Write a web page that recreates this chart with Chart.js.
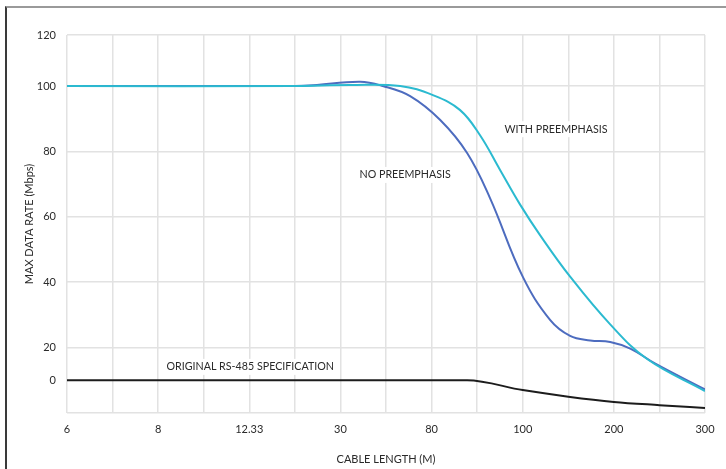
<!DOCTYPE html>
<html>
<head>
<meta charset="utf-8">
<script src="https://cdn.jsdelivr.net/npm/chart.js@4/dist/chart.umd.min.js"></script>
<style>
  html, body { margin: 0; padding: 0; background: #fff; }
  #wrap { position: relative; width: 726px; height: 469px; }
  #frame { position: absolute; left: 5px; top: 6px; right: 0; bottom: 0;
           border-top: 2px solid #9a9a9a; border-left: 2px solid #3a3a3a; pointer-events: none; }
  canvas { position: absolute; left: 0; top: 0; }
</style>
</head>
<body>
<div id="wrap">
  <canvas id="c" width="726" height="469"></canvas>
  <div id="frame"></div>
</div>
<script>
// Category tick labels on the cable-length axis (placed at every other grid position)
const cableLabels = ['6', '', '8', '', '12.33', '', '30', '', '80', '', '100', '', '200', '', '300'];

// Y tick positions (axis units) and their printed labels
const yTickValues = [0, 10, 20, 40, 60, 80, 100, 115.6];
const yTickLabels = ['', '0', '20', '40', '60', '80', '100', '120'];

// Series: x = position on cable-length axis, y = data rate (axis units)
const withPreX = [0, 5, 6.21, 7.31, 8.03, 8.62, 9.06, 9.5, 9.94, 10.38, 11.04, 11.92, 12.73, 14];
const withPreY = [100, 100, 100.3, 100, 97.2, 92.7, 85, 74.4, 63.8, 54.4, 41.7, 27.1, 16.5, 6.7];

const noPreX = [0, 5, 5.4, 6.43, 6.93, 7.53, 8.19, 8.78, 9.28, 10.0, 10.6, 11.04, 11.48, 11.92, 12.36, 12.91, 14];
const noPreY = [100, 100, 100.2, 101.3, 100, 96.9, 89.6, 79.5, 65.8, 41.7, 28.5, 23.6, 22.2, 21.7, 19.7, 15.1, 7.2];

const specX = [0, 8.78, 10, 11, 12, 13, 14];
const specY = [10, 10, 7, 5, 3.4, 2.4, 1.5];

// Annotation labels
const noteTexts = ['WITH PREEMPHASIS', 'NO PREEMPHASIS', 'ORIGINAL RS-485 SPECIFICATION'];
const noteX = [10.73, 7.42, 4.02];
const noteY = [86.8, 72.8, 14.1];

const pts = (xs, ys) => xs.map((x, i) => ({x: x, y: ys[i]}));
const FONT = 'Lato, "Open Sans", sans-serif';
const TXT = '#2a2a2a';

const notesPlugin = {
  id: 'notes',
  beforeDatasetsDraw(chart) {
    const {ctx, scales: {x, y}} = chart;
    ctx.save();
    ctx.font = '10.7px ' + FONT;
    ctx.textAlign = 'center';
    ctx.textBaseline = 'middle';
    noteTexts.forEach((t, i) => {
      const px = x.getPixelForValue(noteX[i]);
      const py = y.getPixelForValue(noteY[i]);
      const w = ctx.measureText(t).width;
      ctx.fillStyle = '#fff';
      ctx.fillRect(px - w / 2 - 4, py - 8, w + 8, 16);
      ctx.fillStyle = TXT;
      ctx.fillText(t, px, py);
    });
    ctx.restore();
  }
};

new Chart(document.getElementById('c'), {
  type: 'line',
  data: {
    datasets: [
      { label: 'With preemphasis', data: pts(withPreX, withPreY), borderColor: '#2bbad0', borderWidth: 2,
        pointRadius: 0, tension: 0.4, fill: false },
      { label: 'No preemphasis', data: pts(noPreX, noPreY), borderColor: '#4d6cbf', borderWidth: 2,
        pointRadius: 0, tension: 0.4, fill: false },
      { label: 'Original RS-485 specification', data: pts(specX, specY), borderColor: '#1c1c1c', borderWidth: 2,
        pointRadius: 0, cubicInterpolationMode: 'monotone', fill: false }
    ]
  },
  options: {
    responsive: false,
    animation: false,
    events: [],
    layout: { padding: { left: 0, right: 21, top: 35, bottom: 0 } },
    plugins: { legend: { display: false }, tooltip: { enabled: false } },
    scales: {
      x: {
        type: 'linear', min: 0, max: 14,
        afterBuildTicks: (s) => { s.ticks = cableLabels.map((_, i) => ({value: i})); },
        afterFit: (s) => { s.height = 56; },
        ticks: { autoSkip: false, maxRotation: 0, padding: 10, color: TXT,
                 font: { family: FONT, size: 11 },
                 callback: (v) => cableLabels[v] },
        grid: { color: '#e2e2e2', lineWidth: 1.5, drawTicks: false },
        border: { display: false },
        title: { display: true, text: 'CABLE LENGTH (M)', color: TXT,
                 font: { family: FONT, size: 11 }, padding: { top: 0, bottom: 3 } }
      },
      y: {
        type: 'linear', min: 0, max: 115.6,
        afterBuildTicks: (s) => { s.ticks = yTickValues.map(v => ({value: v})); },
        afterFit: (s) => { s.width = 67; },
        ticks: { autoSkip: false, padding: 11, color: TXT, font: { family: FONT, size: 11 },
                 callback: (v) => { const i = yTickValues.indexOf(v); return i >= 0 ? yTickLabels[i] : ''; } },
        grid: { lineWidth: 1.5, drawTicks: false,
                color: (c) => (c.tick && c.tick.value === 10) ? 'rgba(0,0,0,0)' : '#e2e2e2' },
        border: { display: false },
        title: { display: true, text: 'MAX DATA RATE (Mbps)', color: TXT,
                 font: { family: FONT, size: 11 }, padding: { top: 23, bottom: 0 } }
      }
    }
  },
  plugins: [notesPlugin]
});
</script>
</body>
</html>
